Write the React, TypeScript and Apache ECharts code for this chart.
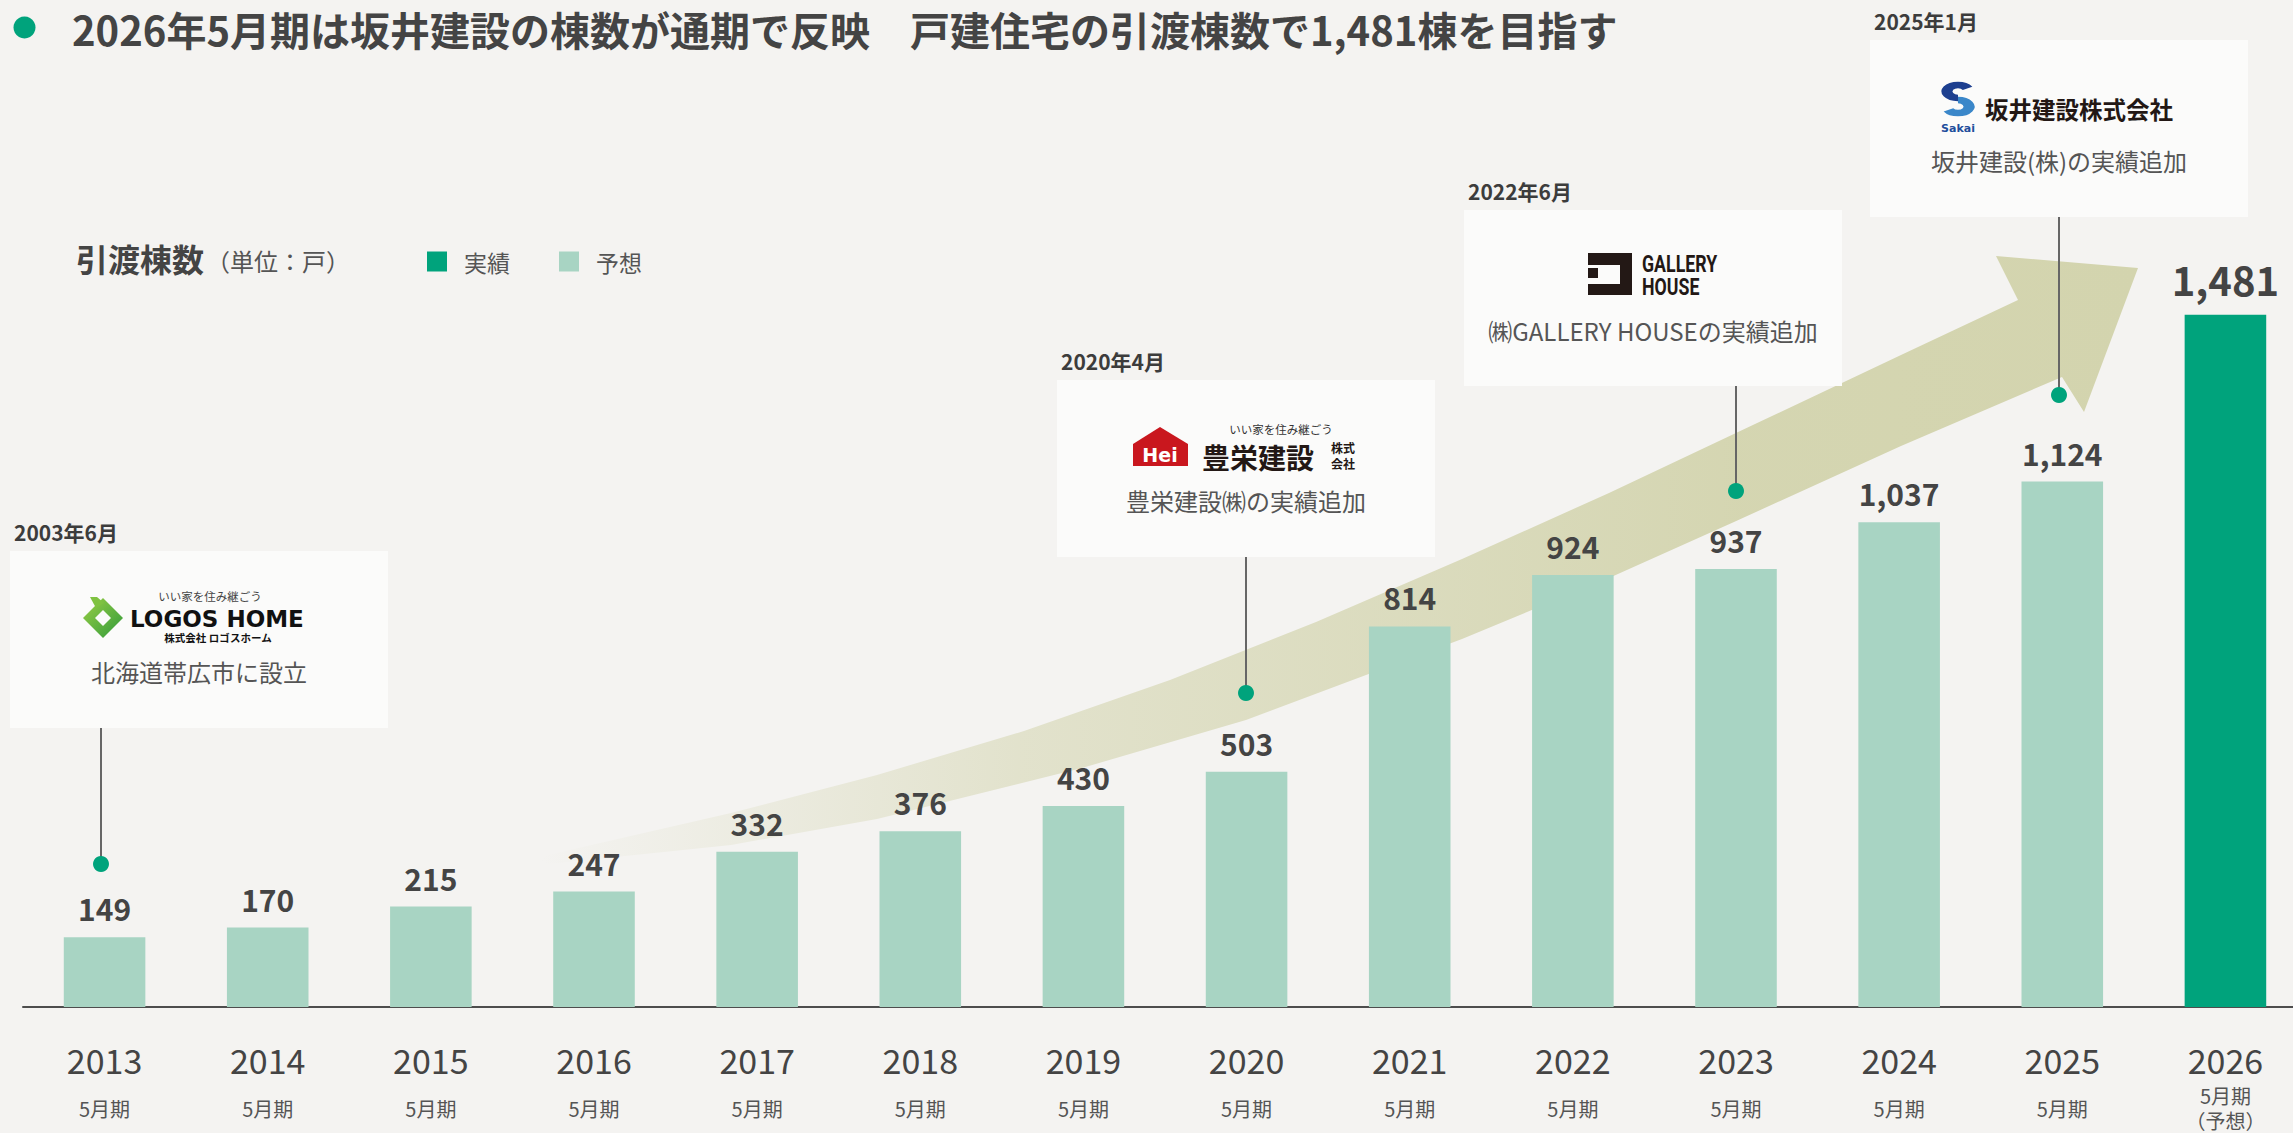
import React, { useEffect, useRef } from 'react';
import * as echarts from 'echarts';

// ---- data ----
const years = ['2013', '2014', '2015', '2016', '2017', '2018', '2019', '2020', '2021', '2022', '2023', '2024', '2025', '2026'];
const forecastValues: (number | string)[] = [149, 170, 215, 247, 332, 376, 430, 503, 814, 924, 937, 1037, 1124, '-'];
const actualValues: (number | string)[] = ['-', '-', '-', '-', '-', '-', '-', '-', '-', '-', '-', '-', '-', 1481];
const periodLabel = '5月期';
const forecastNote = '（予想）';
const legendNames = ['実績', '予想'];
const titleText = '2026年5月期は坂井建設の棟数が通期で反映　戸建住宅の引渡棟数で1,481棟を目指す';
const axisTitle = '引渡棟数';
const unitText = '（単位：戸）';

const FONT = '"Noto Sans CJK JP", "Noto Sans", sans-serif';
const DARK = '#00a37c';
const LIGHT = '#a8d4c3';
const BG = '#f4f3f1';
const BOX = '#fbfbfa';

function txt(x: number, y: number, text: string, size: number, fill: string, o: any = {}) {
  return {
    type: 'text',
    x,
    y,
    z: 10,
    scaleX: o.scaleX ?? 1,
    style: {
      text,
      fontSize: size,
      fontFamily: o.family ?? FONT,
      fontWeight: o.weight ?? 'normal',
      fill,
      align: o.align ?? 'left',
      verticalAlign: 'middle',
    },
  };
}

const callouts = [
  { date: '2003年6月', desc: '北海道帯広市に設立', box: [10, 551, 378, 177], dot: [101, 864] },
  { date: '2020年4月', desc: '豊栄建設㈱の実績追加', box: [1057, 380, 378, 177], dot: [1246, 693] },
  { date: '2022年6月', desc: '㈱GALLERY HOUSEの実績追加', box: [1464, 210, 378, 176], dot: [1736, 491] },
  { date: '2025年1月', desc: '坂井建設(株)の実績追加', box: [1870, 40, 378, 177], dot: [2059, 395] },
];

// decorative arrow outline (pixels)
const arrowUpper = [[548, 855], [731, 813], [877, 775], [1024, 731], [1170, 680], [1316, 622], [1462, 559], [1609, 493], [1755, 424], [1901, 355], [2018, 300]];
const arrowHead = [[1996, 256], [2138, 268], [2084, 412]];
const arrowLower = [[2062, 377], [1901, 446], [1734, 522], [1609, 578], [1462, 639], [1246, 720], [1082, 768], [877, 819], [731, 845], [548, 864]];

function buildGraphics() {
  const els: any[] = [];
  // arrow
  els.push({
    type: 'polygon',
    z: 1,
    shape: { points: [[540, 860], ...arrowUpper, ...arrowHead, ...arrowLower] },
    style: {
      fill: new echarts.graphic.LinearGradient(0, 0, 1, 0, [
        { offset: 0, color: 'rgba(211,212,174,0)' },
        { offset: 0.3, color: 'rgba(211,212,174,0.55)' },
        { offset: 0.75, color: 'rgba(211,212,174,0.95)' },
        { offset: 1, color: 'rgba(211,212,174,1)' },
      ]),
    },
  });
  // title
  els.push({ type: 'circle', z: 10, shape: { cx: 24.5, cy: 27.5, r: 11 }, style: { fill: DARK } });
  els.push(txt(72, 29, titleText, 40, '#444', { weight: 'bold' }));
  els.push(txt(76, 258, axisTitle, 32, '#444', { weight: 'bold' }));
  els.push(txt(206, 260, unitText, 24, '#555'));

  // callouts
  callouts.forEach((c) => {
    const [bx, by, bw, bh] = c.box;
    els.push({ type: 'rect', z: 8, shape: { x: bx, y: by, width: bw, height: bh }, style: { fill: BOX } });
    els.push(txt(bx + 4, by - 19, c.date, 21, '#3c3c3c', { weight: 'bold' }));
    els.push(txt(bx + bw / 2, by + 120, c.desc, 24, '#555', { align: 'center' }));
    els.push({ type: 'line', z: 9, shape: { x1: c.dot[0], y1: by + bh, x2: c.dot[0], y2: c.dot[1] }, style: { stroke: '#666', lineWidth: 2 } });
    els.push({ type: 'circle', z: 10, shape: { cx: c.dot[0], cy: c.dot[1], r: 8 }, style: { fill: DARK } });
  });

  // LOGOS HOME logo
  els.push({ type: 'polygon', z: 10, shape: { points: [[103, 598], [123, 618], [103, 638], [83, 618]] }, style: { fill: new echarts.graphic.LinearGradient(0, 0, 1, 1, [{ offset: 0, color: '#9bcf45' }, { offset: 1, color: '#2f9a3a' }]) } });
  els.push({ type: 'polygon', z: 11, shape: { points: [[103, 610], [111, 618], [103, 626], [95, 618]] }, style: { fill: BOX } });
  els.push({ type: 'polygon', z: 11, shape: { points: [[90, 597], [97, 597], [104, 603], [96, 608]] }, style: { fill: '#7fc241' } });
  els.push(txt(210, 596, 'いい家を住み継ごう', 11.5, '#444', { align: 'center' }));
  els.push(txt(130, 619, 'LOGOS HOME', 23, '#111', { weight: 'bold', family: '"DejaVu Sans", sans-serif' }));
  els.push(txt(218, 637, '株式会社 ロゴスホーム', 10.5, '#111', { weight: 'bold', align: 'center' }));

  // Hei logo
  els.push({ type: 'polygon', z: 10, shape: { points: [[1133, 444], [1160, 427], [1188, 444], [1188, 466], [1133, 466]] }, style: { fill: '#c9171e' } });
  els.push(txt(1160, 455, 'Hei', 19, '#fff', { weight: 'bold', align: 'center', family: '"DejaVu Sans", sans-serif' }));
  els.push(txt(1281, 429, 'いい家を住み継ごう', 11.5, '#333', { align: 'center' }));
  els.push(txt(1202, 457, '豊栄建設', 28, '#231815', { weight: 'bold' }));
  els.push(txt(1331, 447, '株式', 12, '#231815', { weight: 'bold' }));
  els.push(txt(1331, 463, '会社', 12, '#231815', { weight: 'bold' }));

  // GALLERY HOUSE logo
  const gh = '#231815';
  els.push({ type: 'rect', z: 10, shape: { x: 1588, y: 253, width: 44, height: 12 }, style: { fill: gh } });
  els.push({ type: 'rect', z: 10, shape: { x: 1620, y: 253, width: 12, height: 42 }, style: { fill: gh } });
  els.push({ type: 'rect', z: 10, shape: { x: 1588, y: 268, width: 10, height: 10 }, style: { fill: gh } });
  els.push({ type: 'rect', z: 10, shape: { x: 1588, y: 284, width: 44, height: 11 }, style: { fill: gh } });
  els.push(txt(1642, 263, 'GALLERY', 24, gh, { weight: 'bold', family: 'Roboto, sans-serif', scaleX: 0.74 }));
  els.push(txt(1642, 286, 'HOUSE', 24, gh, { weight: 'bold', family: 'Roboto, sans-serif', scaleX: 0.74 }));

  // Sakai logo
  els.push({
    type: 'group',
    x: 1958,
    y: 99,
    scaleX: 1.7,
    z: 10,
    children: [
      { type: 'arc', z: 10, shape: { cx: 0, cy: -7.5, r: 6.5, startAngle: Math.PI / 2, endAngle: (11 * Math.PI) / 6, clockwise: true }, style: { stroke: '#1d3f8f', lineWidth: 6.5, fill: 'none' } },
      { type: 'arc', z: 10, shape: { cx: 0, cy: 7.5, r: 6.5, startAngle: -Math.PI / 2, endAngle: (5 * Math.PI) / 6, clockwise: true }, style: { stroke: '#3a87c9', lineWidth: 6.5, fill: 'none' } },
    ],
  });
  els.push(txt(1958, 128, 'Sakai', 11, '#1f4e9c', { weight: 'bold', align: 'center', family: '"DejaVu Sans", sans-serif' }));
  els.push(txt(1985, 109, '坂井建設株式会社', 23.5, '#231815', { weight: 'bold' }));
  return els;
}

const fmt = (p: any) => Number(p.value).toLocaleString('en-US');

export default function App() {
  const ref = useRef<HTMLDivElement>(null);
  useEffect(() => {
    if (!ref.current) return;
    const chart = echarts.init(ref.current, undefined, { renderer: 'svg' });
    chart.setOption({
      animation: false,
      backgroundColor: BG,
      textStyle: { fontFamily: FONT },
      grid: { left: 23, right: 3, top: 72, bottom: 126 },
      legend: {
        left: 427,
        top: 250,
        padding: 0,
        icon: 'rect',
        itemWidth: 20,
        itemHeight: 20,
        itemGap: 49,
        data: legendNames,
        textStyle: { fontSize: 23, color: '#555', fontFamily: FONT, padding: [0, 0, 0, 12] },
      },
      xAxis: {
        type: 'category',
        data: years,
        axisTick: { show: false },
        axisLine: { lineStyle: { color: '#4d4d4d', width: 2 } },
        axisLabel: {
          interval: 0,
          margin: 31,
          formatter: (v: string) =>
            v === years[years.length - 1]
              ? `{y|${v}}\n{p1|${periodLabel}}\n{p2|${forecastNote}}`
              : `{y|${v}}\n{s|${periodLabel}}`,
          rich: {
            y: { fontSize: 34, lineHeight: 42, color: '#444', fontFamily: FONT },
            s: { fontSize: 20, lineHeight: 56, color: '#555', fontFamily: FONT },
            p1: { fontSize: 20, lineHeight: 30, color: '#555', fontFamily: FONT },
            p2: { fontSize: 20, lineHeight: 20, color: '#555', fontFamily: FONT },
          },
        },
      },
      yAxis: { type: 'value', min: 0, max: 2000, show: false, splitLine: { show: false } },
      series: [
        {
          name: legendNames[1],
          type: 'bar',
          data: forecastValues,
          barWidth: '50%',
          barGap: '-100%',
          z: 2,
          itemStyle: { color: LIGHT },
          label: { show: true, position: 'top', distance: 14, fontSize: 30, fontWeight: 'bold', color: '#444', fontFamily: FONT, formatter: fmt },
        },
        {
          name: legendNames[0],
          type: 'bar',
          data: actualValues,
          barWidth: '50%',
          barGap: '-100%',
          z: 2,
          itemStyle: { color: DARK },
          label: { show: true, position: 'top', distance: 16, fontSize: 40, fontWeight: 'bold', color: '#444', fontFamily: FONT, formatter: fmt },
        },
      ],
      graphic: { elements: buildGraphics() },
    });
    return () => chart.dispose();
  }, []);
  return (
    <div style={{ position: 'absolute', left: 0, top: 0, width: 2293, height: 1133, overflow: 'hidden', background: BG }}>
      <div ref={ref} style={{ position: 'absolute', left: 0, top: 0, width: 2310, height: 1133 }} />
    </div>
  );
}
